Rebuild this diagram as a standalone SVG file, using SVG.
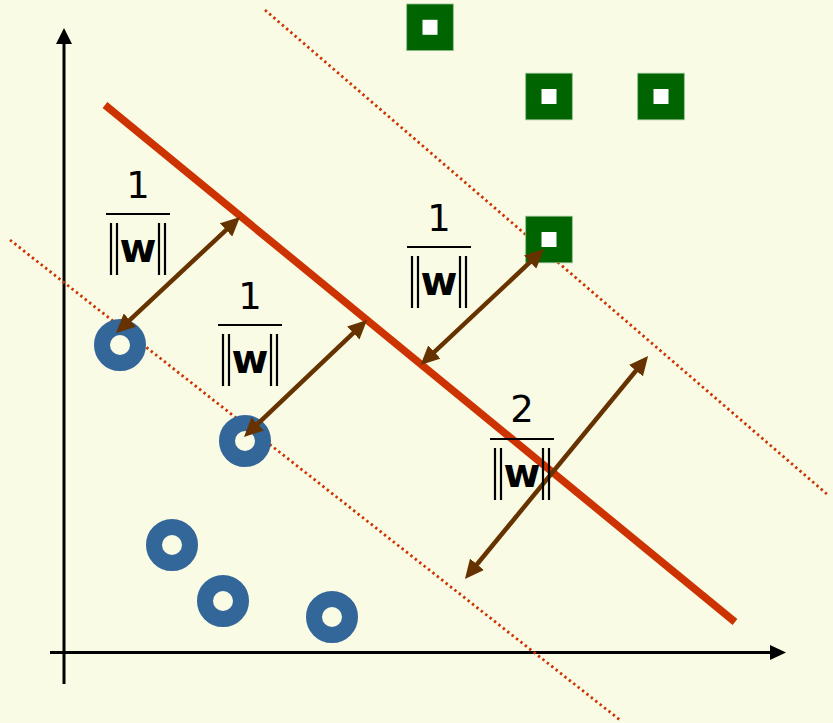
<svg xmlns="http://www.w3.org/2000/svg" width="833" height="723" viewBox="0 0 833 723">
<defs>
<style>
.axis{stroke:#000;stroke-width:3;fill:none}
.head{fill:#000}
.hyper{stroke:#CC3300;stroke-width:7.5;fill:none}
.margin{stroke:#CC3300;stroke-width:2.8;stroke-dasharray:2.4 3.2;fill:none}
.dist{stroke:#663300;stroke-width:4.5;fill:none;marker-start:url(#ah);marker-end:url(#ah)}
.ring{fill:none;stroke:#336699;stroke-width:16}
.sq{fill:#006400;stroke:#8FBF8F;stroke-width:0.8}
.sqin{fill:#FFFFFF}
.num{font-family:"DejaVu Sans",sans-serif;font-size:37px;fill:#000;text-anchor:middle}
.w{font-family:"DejaVu Sans",sans-serif;font-weight:bold;font-size:40px;fill:#000;text-anchor:middle}
.bar{stroke:#000;stroke-width:2.2;fill:none}
.norm{stroke:#000;stroke-width:2.2;fill:none}
</style>
<marker id="ah" markerUnits="userSpaceOnUse" markerWidth="19" markerHeight="18" refX="9" refY="9" orient="auto-start-reverse" viewBox="0 0 19 18">
<path d="M0,0 L19,9 L0,18 z" fill="#663300"/>
</marker>
<g id="frac">
<line class="bar" x1="0" y1="0" x2="64" y2="0"/>
<path class="norm" d="M5,9 V61 M11,9 V61 M53,9 V61 M59,9 V61"/>
<text class="w" x="32" y="47.5">w</text>
</g>
</defs>
<rect width="833" height="723" fill="#FAFBE5"/>
<g id="axes">
<line class="axis" x1="64" y1="684" x2="64" y2="42"/>
<polygon class="head" points="64,28 56,44 72,44"/>
<line class="axis" x1="50" y1="652.5" x2="772" y2="652.5"/>
<polygon class="head" points="786,652.5 770,645 770,660"/>
</g>
<g id="lines">
<line class="margin" x1="265" y1="10" x2="828" y2="495"/>
<line class="margin" x1="10" y1="240" x2="620" y2="720"/>
<line class="hyper" x1="105" y1="105" x2="735" y2="622"/>
</g>
<g id="points-neg">
<circle class="ring" cx="120" cy="345" r="18"/>
<circle class="ring" cx="245" cy="441" r="18"/>
<circle class="ring" cx="172" cy="545" r="18"/>
<circle class="ring" cx="223" cy="601" r="18"/>
<circle class="ring" cx="332" cy="617" r="18"/>
</g>
<g id="points-pos">
<rect class="sq" x="406.7" y="4" width="46.6" height="46.6"/><rect class="sqin" x="422.5" y="19.8" width="15" height="15"/>
<rect class="sq" x="525.7" y="73.2" width="46.6" height="46.6"/><rect class="sqin" x="541.5" y="89" width="15" height="15"/>
<rect class="sq" x="637.7" y="73.2" width="46.6" height="46.6"/><rect class="sqin" x="653.5" y="89" width="15" height="15"/>
<rect class="sq" x="525.7" y="216.2" width="46.6" height="46.6"/><rect class="sqin" x="541.5" y="232" width="15" height="15"/>
</g>
<g id="connectors">
<line class="dist" x1="123.3" y1="326.2" x2="232.7" y2="223.8"/>
<line class="dist" x1="251.2" y1="430.1" x2="359.8" y2="326.9"/>
<line class="dist" x1="427.8" y1="358.2" x2="536.7" y2="255.9"/>
<line class="dist" x1="471.3" y1="571.3" x2="641.7" y2="363.7"/>
</g>
<g id="label1">
<text class="num" x="138" y="198">1</text>
<use href="#frac" x="106" y="214"/>
</g>
<g id="label2">
<text class="num" x="250" y="309">1</text>
<use href="#frac" x="218" y="325"/>
</g>
<g id="label3">
<text class="num" x="439" y="231">1</text>
<use href="#frac" x="407" y="247"/>
</g>
<g id="label4">
<text class="num" x="522" y="422">2</text>
<use href="#frac" x="490" y="439"/>
</g>
</svg>
